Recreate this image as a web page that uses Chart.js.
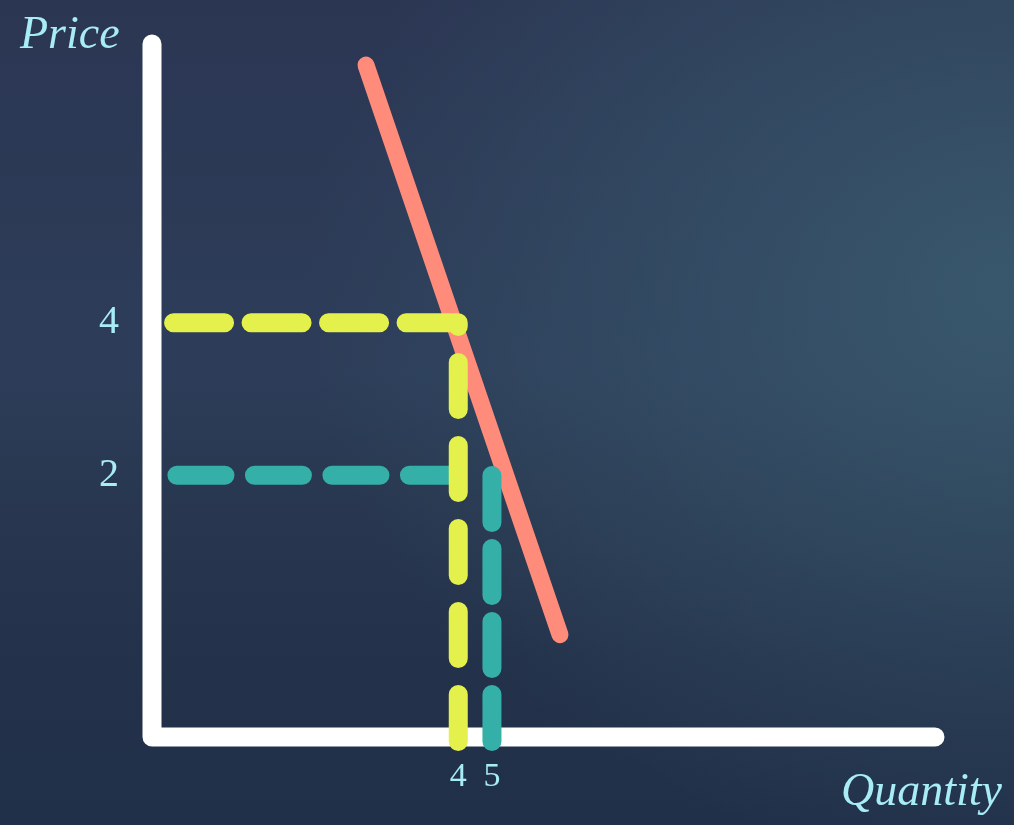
<!DOCTYPE html>
<html>
<head>
<meta charset="utf-8">
<script src="https://cdn.jsdelivr.net/npm/chart.js@4/dist/chart.umd.min.js"></script>
<style>
  html, body { margin: 0; padding: 0; }
  body {
    width: 1014px; height: 825px; overflow: hidden; position: relative;
    background:
      radial-gradient(ellipse 70% 70% at 100% 35%, rgba(58,92,112,0.85) 0%, rgba(58,92,112,0) 100%),
      linear-gradient(180deg, #2b3653 0%, #2d3d59 45%, #28374f 62%, #23314a 80%, #213049 100%);
  }
  #wrap { position: absolute; left: 0; top: 0; width: 1014px; height: 825px; }
  .ttl {
    position: absolute; color: #a8ecf6;
    font-family: "Liberation Serif", "DejaVu Serif", serif; font-style: italic;
    font-size: 46px; line-height: 1; white-space: nowrap;
  }
  #priceTitle { left: 20px; top: 10px; }
  #qtyTitle { right: 12px; top: 767px; }
</style>
</head>
<body>
<div id="wrap"><canvas id="c" width="1014" height="825"></canvas></div>
<div class="ttl" id="priceTitle">Price</div>
<div class="ttl" id="qtyTitle">Quantity</div>
<script>
// ---- data ----
const priceTicks = [2, 4];
const quantityTicks = [4, 5];
const demandQuantity = [1.26, 7.02];
const demandPrice = [7.38, -0.09];
const highPrice = 4, highQuantity = 4;   // yellow guide
const lowPrice = 2, lowQuantity = 5;     // teal guide
const yellowGuideStart = -4.45;
const tealGuideStart = -4.35;
const guideBottom = -1.49;

const xMin = -5.09, xMax = 18.15;
const yMin = -1.432, yMax = 7.656;

const YELLOW = '#e4f04b';
const TEAL = '#35b0a9';
const SALMON = '#ff8b7b';
const LABEL = '#a8ecf6';

const axisPlugin = {
  id: 'axisLines',
  beforeDatasetsDraw(chart) {
    const {ctx, chartArea: a} = chart;
    ctx.save();
    ctx.strokeStyle = '#ffffff';
    ctx.lineWidth = 19;
    ctx.lineCap = 'round';
    ctx.lineJoin = 'round';
    ctx.beginPath();
    ctx.moveTo(a.left, a.top);
    ctx.lineTo(a.left, a.bottom);
    ctx.lineTo(a.right, a.bottom);
    ctx.stroke();
    ctx.restore();
  }
};

const common = {
  showLine: true, pointRadius: 0, pointHoverRadius: 0, fill: false,
  borderCapStyle: 'round', borderJoinStyle: 'round', clip: false, tension: 0
};

new Chart(document.getElementById('c'), {
  type: 'scatter',
  data: {
    datasets: [
      Object.assign({}, common, {
        label: 'Q at P=4', order: 0,
        data: [{x: highQuantity, y: guideBottom}, {x: highQuantity, y: highPrice}],
        borderColor: YELLOW, borderWidth: 19, borderDash: [47, 36]
      }),
      Object.assign({}, common, {
        label: 'P=4', order: 1,
        data: [{x: yellowGuideStart, y: highPrice}, {x: highQuantity - 0.08, y: highPrice}],
        borderColor: YELLOW, borderWidth: 19, borderDash: [51, 26.5]
      }),
      Object.assign({}, common, {
        label: 'Q at P=2', order: 2,
        data: [{x: lowQuantity, y: guideBottom}, {x: lowQuantity, y: lowPrice}],
        borderColor: TEAL, borderWidth: 19, borderDash: [47, 26]
      }),
      Object.assign({}, common, {
        label: 'P=2', order: 3,
        data: [{x: tealGuideStart, y: lowPrice}, {x: highQuantity, y: lowPrice}],
        borderColor: TEAL, borderWidth: 19, borderDash: [48, 29.5]
      }),
      Object.assign({}, common, {
        label: 'Demand', order: 4,
        data: demandQuantity.map((q, i) => ({x: q, y: demandPrice[i]})),
        borderColor: SALMON, borderWidth: 17
      })
    ]
  },
  options: {
    responsive: false,
    animation: false,
    devicePixelRatio: 1,
    layout: { padding: { top: 44, right: 79, left: 0, bottom: 0 } },
    plugins: { legend: { display: false }, tooltip: { enabled: false } },
    scales: {
      x: {
        type: 'linear', position: 'bottom', min: xMin, max: xMax,
        grid: { display: false, drawTicks: false }, border: { display: false },
        afterBuildTicks: s => { s.ticks = quantityTicks.map(v => ({value: v})); },
        afterFit: s => { s.height = 88; s.paddingLeft = 0; s.paddingRight = 0; },
        ticks: {
          padding: 20, color: LABEL, autoSkip: false, maxRotation: 0,
          font: { family: '"Liberation Serif", serif', size: 34 },
          callback: v => String(v)
        }
      },
      y: {
        type: 'linear', position: 'left', min: yMin, max: yMax,
        grid: { display: false, drawTicks: false }, border: { display: false },
        afterBuildTicks: s => { s.ticks = priceTicks.map(v => ({value: v})); },
        afterFit: s => { s.width = 152; s.paddingTop = 0; s.paddingBottom = 0; },
        ticks: {
          padding: 33, color: LABEL, autoSkip: false,
          font: { family: '"Liberation Serif", serif', size: 40 },
          callback: v => String(v)
        }
      }
    }
  },
  plugins: [axisPlugin]
});
</script>
</body>
</html>
